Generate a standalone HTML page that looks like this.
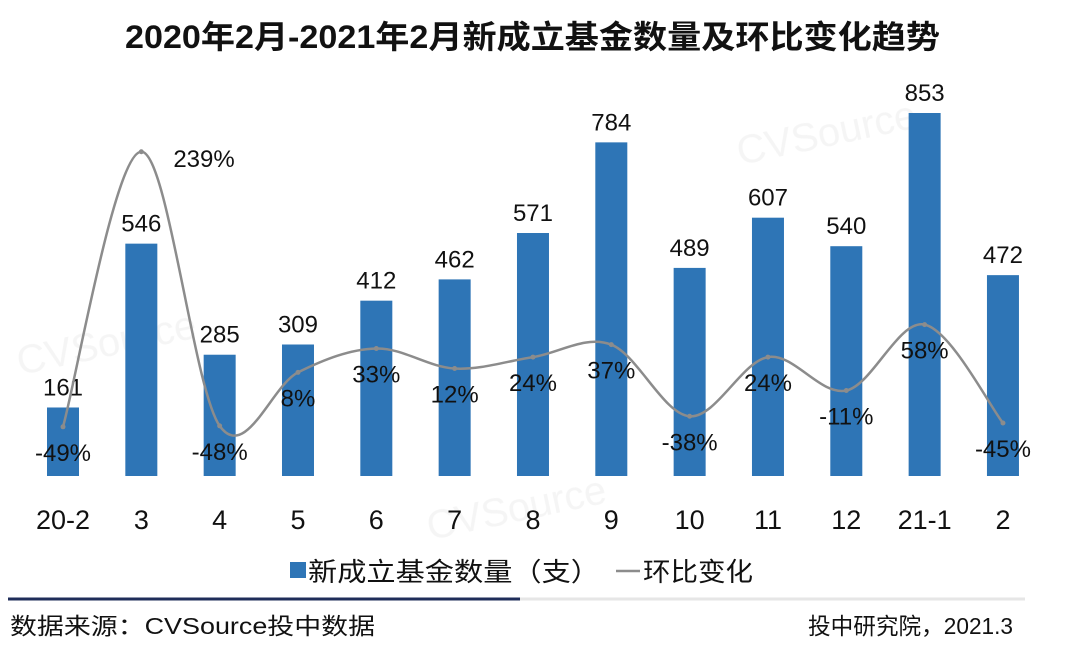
<!DOCTYPE html>
<html><head><meta charset="utf-8">
<style>
body{margin:0;background:#fff;}
svg text{font-family:"Liberation Sans","Noto Sans CJK SC",sans-serif;}
</style></head>
<body>
<svg id="chart" width="1080" height="654" viewBox="0 0 1080 654" xmlns="http://www.w3.org/2000/svg">
<rect width="1080" height="654" fill="#fff"/>
<text x="125" y="48" font-size="32" font-weight="bold" fill="#111" textLength="815" lengthAdjust="spacingAndGlyphs">2020年2月-2021年2月新成立基金数量及环比变化趋势</text>
<g font-size="40" opacity="0.1">
<text x="740" y="165" fill="#999" transform="rotate(-12 740 165)">CVSource</text>
<text x="20" y="375" fill="#999" transform="rotate(-12 20 375)">CVSource</text>
<text x="430" y="540" fill="#999" transform="rotate(-12 430 540)">CVSource</text>
</g>
<g id="bars"></g>
<g id="line"></g>
<g id="xlabels"></g>
<g>
<rect x="290" y="562" width="16" height="16" fill="#2e75b6"/>
<text x="308" y="581" font-size="26" fill="#111" textLength="292" lengthAdjust="spacingAndGlyphs">新成立基金数量（支）</text>
<line x1="616" y1="571" x2="640" y2="571" stroke="#8c8c8c" stroke-width="2.5"/>
<text x="643" y="581" font-size="26" fill="#111" textLength="110" lengthAdjust="spacingAndGlyphs">环比变化</text>
</g>
<line x1="8" y1="599" x2="520" y2="599" stroke="#1f2d5a" stroke-width="3"/>
<line x1="520" y1="599" x2="1025" y2="599" stroke="#e6e6e6" stroke-width="3"/>
<text x="10" y="634" font-size="23" fill="#111" textLength="365" lengthAdjust="spacingAndGlyphs">数据来源：CVSource投中数据</text>
<text x="808" y="634" font-size="23" fill="#111" textLength="205" lengthAdjust="spacingAndGlyphs">投中研究院，2021.3</text>
</svg>
<script>
const categories=["20-2","3","4","5","6","7","8","9","10","11","12","21-1","2"];
const counts=[161,546,285,309,412,462,571,784,489,607,540,853,472];
const pct=[-49,239,-48,8,33,12,24,37,-38,24,-11,58,-45];
const NS="http://www.w3.org/2000/svg";
const x0=63,step=78.33,base=476,bscale=363/853;
const pzero=380,pscale=0.955;
const xs=i=>x0+i*step;
const yb=v=>base-v*bscale;
const yp=v=>pzero-v*pscale;
function mk(tag,attrs,parent){const e=document.createElementNS(NS,tag);for(const k in attrs)e.setAttribute(k,attrs[k]);parent.appendChild(e);return e;}
const gb=document.getElementById('bars'),gl=document.getElementById('line'),gx=document.getElementById('xlabels');
counts.forEach((v,i)=>{
  const r=mk('rect',{x:xs(i)-16,y:yb(v),width:32,height:base-yb(v),fill:'#2e75b6'},gb);
  
  
  const t=mk('text',{x:xs(i),y:yb(v)-12,'text-anchor':'middle','font-size':24,fill:'#111'},gb);
  t.textContent=v;
  
  
  const c=mk('text',{x:xs(i),y:529,'text-anchor':'middle','font-size':27,fill:'#111'},gx);
  c.textContent=categories[i];
  
  
});
const pts=pct.map((v,i)=>[xs(i),yp(v)]);
let d='M'+pts[0][0]+','+pts[0][1];
for(let i=0;i<pts.length-1;i++){
  const p0=pts[Math.max(0,i-1)],p1=pts[i],p2=pts[i+1],p3=pts[Math.min(pts.length-1,i+2)];
  const c1=[p1[0]+(p2[0]-p0[0])/6,p1[1]+(p2[1]-p0[1])/6];
  const c2=[p2[0]-(p3[0]-p1[0])/6,p2[1]-(p3[1]-p1[1])/6];
  d+=` C${c1[0]},${c1[1]} ${c2[0]},${c2[1]} ${p2[0]},${p2[1]}`;
}
const path=mk('path',{d:d,fill:'none',stroke:'#8c8c8c','stroke-width':2.5},gl);


pct.forEach((v,i)=>{
  const m=mk('circle',{cx:pts[i][0],cy:pts[i][1],r:2.5,fill:'#8c8c8c'},gl);
  
  
  const right=i===1;
  const t=mk('text',{x:right?pts[i][0]+32:pts[i][0],y:right?pts[i][1]+15:pts[i][1]+34,'text-anchor':right?'start':'middle','font-size':24,fill:'#111'},gl);
  t.textContent=v+'%';
  
  
});
</script>
</body></html>
